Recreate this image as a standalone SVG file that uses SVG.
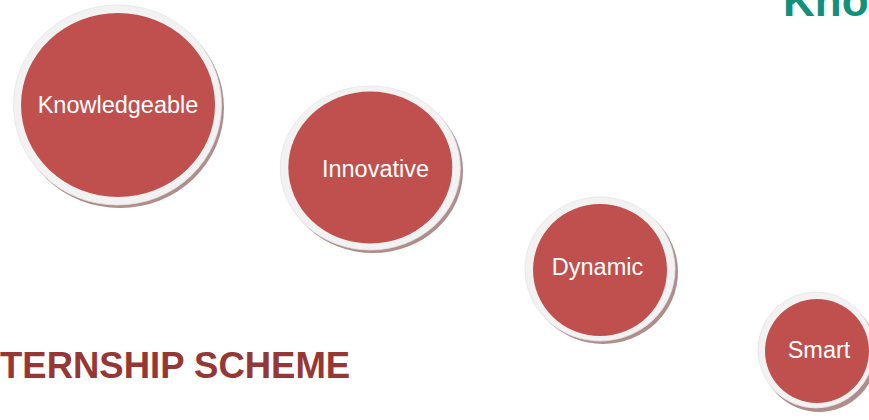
<svg xmlns="http://www.w3.org/2000/svg" width="869" height="420" viewBox="0 0 869 420">
<style>
.sh{fill:#b08c8c;}
.ring{fill:#f2f2f2;stroke:#e4e4e4;stroke-width:0.8;}
.core{fill:#c0504d;}
.lbl{font-family:"Liberation Sans",Arial,sans-serif;font-size:23.5px;fill:#ffffff;text-anchor:middle;}
</style>
<rect width="869" height="420" fill="#ffffff"/>
<g id="connectors"></g>
<g id="node-knowledgeable">
<ellipse class="sh" cx="120" cy="108" rx="104" ry="100"/>
<ellipse class="ring" cx="117.5" cy="105" rx="104" ry="100"/>
<ellipse class="core" cx="118" cy="105" rx="97" ry="92"/>
<text class="lbl" x="118" y="113">Knowledgeable</text>
</g>
<g id="node-innovative">
<ellipse class="sh" cx="373" cy="171" rx="90" ry="82"/>
<ellipse class="ring" cx="370.3" cy="168" rx="90" ry="82"/>
<ellipse class="core" cx="370.3" cy="167.5" rx="82" ry="76"/>
<text class="lbl" x="375.5" y="176.5">Innovative</text>
</g>
<g id="node-dynamic">
<ellipse class="sh" cx="603" cy="272" rx="75" ry="72"/>
<ellipse class="ring" cx="600" cy="269" rx="75" ry="72"/>
<ellipse class="core" cx="600" cy="270" rx="67" ry="66"/>
<text class="lbl" x="597.5" y="275">Dynamic</text>
</g>
<g id="node-smart">
<ellipse class="sh" cx="819" cy="354" rx="58" ry="58"/>
<ellipse class="ring" cx="816" cy="350" rx="58" ry="58"/>
<ellipse class="core" cx="817" cy="351" rx="52" ry="52"/>
<text class="lbl" x="819" y="357.5">Smart</text>
</g>
<text x="0" y="378" font-family="Liberation Sans,Arial,sans-serif" font-weight="bold" font-size="36.5" fill="#953735">TERNSHIP SCHEME</text>
<text x="783" y="16" font-family="Liberation Sans,Arial,sans-serif" font-weight="bold" font-size="44" fill="#12907c">Kno</text>
</svg>
